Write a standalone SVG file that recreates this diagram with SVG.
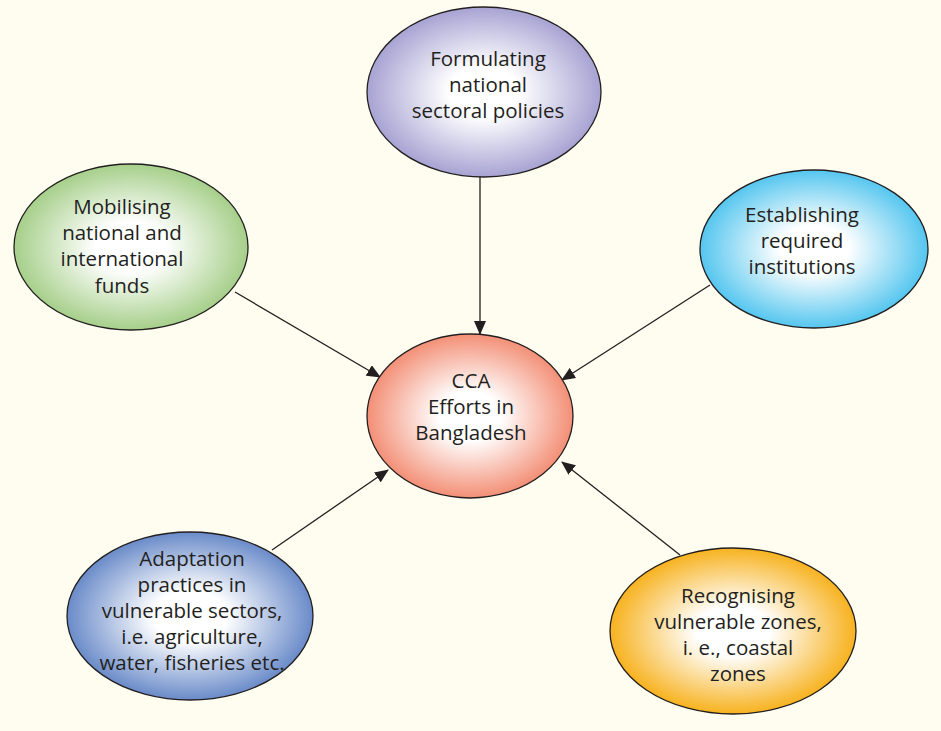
<svg xmlns="http://www.w3.org/2000/svg" width="941" height="731" viewBox="0 0 941 731">
<defs>
<radialGradient id="gP"><stop offset="0.3" stop-color="#ffffff"/><stop offset="1" stop-color="#a7a3d3"/></radialGradient>
<radialGradient id="gR"><stop offset="0.3" stop-color="#ffffff"/><stop offset="1" stop-color="#f38f76"/></radialGradient>
<radialGradient id="gG"><stop offset="0.3" stop-color="#ffffff"/><stop offset="1" stop-color="#a6cf8a"/></radialGradient>
<radialGradient id="gC"><stop offset="0.3" stop-color="#ffffff"/><stop offset="1" stop-color="#55c6ef"/></radialGradient>
<radialGradient id="gB"><stop offset="0.3" stop-color="#ffffff"/><stop offset="1" stop-color="#6a8bc9"/></radialGradient>
<radialGradient id="gO"><stop offset="0.3" stop-color="#ffffff"/><stop offset="1" stop-color="#f7b21f"/></radialGradient>
<marker id="ah" markerWidth="14" markerHeight="12" refX="13" refY="6" orient="auto" markerUnits="userSpaceOnUse">
<path d="M0,0 L14,6 L0,12 Z" fill="#231f20"/>
</marker>
</defs>
<style>
.e{stroke:#231f20;stroke-width:1.3}
.t{font-family:"Open Sans","Noto Sans",sans-serif;font-size:20.5px;fill:#231f20;text-anchor:middle}
.c{stroke:#231f20;stroke-width:1.3;fill:none;marker-end:url(#ah)}
</style>
<rect width="941" height="731" fill="#fefdf0"/>
<g id="connectors">
<line class="c" x1="480" y1="177" x2="480" y2="334"/>
<line class="c" x1="235" y1="292" x2="380" y2="377"/>
<line class="c" x1="710" y1="285" x2="562" y2="380"/>
<line class="c" x1="272" y1="550" x2="388" y2="470"/>
<line class="c" x1="680" y1="555" x2="562" y2="462"/>
</g>
<g id="n-top">
<ellipse class="e" cx="484" cy="92" rx="117" ry="85" fill="url(#gP)"/>
<text class="t" x="488" y="66">Formulating</text>
<text class="t" x="488" y="92">national</text>
<text class="t" x="488" y="118">sectoral policies</text>
</g>
<g id="n-center">
<ellipse class="e" cx="470" cy="416" rx="103" ry="82" fill="url(#gR)"/>
<text class="t" x="471" y="388">CCA</text>
<text class="t" x="471" y="414">Efforts in</text>
<text class="t" x="471" y="440">Bangladesh</text>
</g>
<g id="n-left">
<ellipse class="e" cx="131" cy="247" rx="117" ry="83" fill="url(#gG)"/>
<text class="t" x="122" y="214">Mobilising</text>
<text class="t" x="122" y="240">national and</text>
<text class="t" x="122" y="266">international</text>
<text class="t" x="122" y="293">funds</text>
</g>
<g id="n-right">
<ellipse class="e" cx="814" cy="249" rx="114" ry="79" fill="url(#gC)"/>
<text class="t" x="802" y="222">Establishing</text>
<text class="t" x="802" y="248">required</text>
<text class="t" x="802" y="274">institutions</text>
</g>
<g id="n-bottomleft">
<ellipse class="e" cx="190" cy="616" rx="123" ry="84" fill="url(#gB)"/>
<text class="t" x="192" y="566">Adaptation</text>
<text class="t" x="192" y="592">practices in</text>
<text class="t" x="192" y="618">vulnerable sectors,</text>
<text class="t" x="192" y="644">i.e. agriculture,</text>
<text class="t" x="192" y="670">water, fisheries etc.</text>
</g>
<g id="n-bottomright">
<ellipse class="e" cx="733" cy="631" rx="123" ry="83" fill="url(#gO)"/>
<text class="t" x="738" y="603">Recognising</text>
<text class="t" x="738" y="629">vulnerable zones,</text>
<text class="t" x="738" y="655">i. e., coastal</text>
<text class="t" x="738" y="681">zones</text>
</g>
</svg>
